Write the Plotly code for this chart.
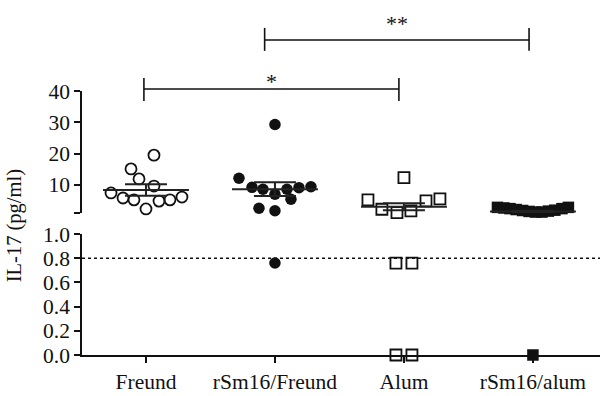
import plotly.graph_objects as go

# ---- data ----
categories = ["Freund", "rSm16/Freund", "Alum", "rSm16/alum"]

freund_vals = [19.5, 15.1, 11.9, 9.6, 7.4, 5.8, 5.2, 2.3, 4.8, 5.2, 6.1]
rsm_freund_vals = [29.3, 12.1, 9.2, 8.6, 7.0, 8.6, 5.4, 9.1, 9.4, 2.5, 1.7, 0.76]
alum_vals = [12.3, 5.2, 2.2, 1.1, 1.7, 4.9, 5.5, 0.76, 0.76, 0.0, 0.0]
rsm_alum_vals = [2.8, 2.6, 2.4, 2.1, 1.8, 1.5, 1.3, 1.3, 1.6, 1.9, 2.4, 2.8, 0.0]

group_means = [8.35, 8.6, 3.0, 1.5]
group_sems = [1.85, 2.2, 1.15, 0.2]

top_ticks = [1, 10, 20, 30, 40]
top_ticktext = ["", "10", "20", "30", "40"]
bottom_ticks = [0.0, 0.2, 0.4, 0.6, 0.8, 1.0]
threshold = 0.8

# ---- horizontal jitter of the points (category units) ----
freund_jit = [0.062, -0.116, -0.054, 0.062, -0.271, -0.178, -0.093, 0.0, 0.101, 0.186, 0.279]
rsm_freund_jit = [0.0, -0.279, -0.178, -0.093, 0.0, 0.093, 0.124, 0.186, 0.279, -0.124, 0.0, 0.0]
alum_jit = [0.0, -0.279, -0.171, -0.054, 0.054, 0.171, 0.279, -0.062, 0.062, -0.062, 0.062]
rsm_alum_jit = [-0.275, -0.225, -0.178, -0.13, -0.08, -0.03, 0.02, 0.07, 0.12, 0.17, 0.225, 0.275, 0.0]

FONT = "Liberation Serif"
INK = "#111111"

groups = [
    (freund_vals, freund_jit, "circle-open", INK),
    (rsm_freund_vals, rsm_freund_jit, "circle", INK),
    (alum_vals, alum_jit, "square-open", INK),
    (rsm_alum_vals, rsm_alum_jit, "square", INK),
]

fig = go.Figure()

for gi, (vals, jit, sym, col) in enumerate(groups):
    top_x = [gi + j for v, j in zip(vals, jit) if v >= 1]
    top_y = [v for v in vals if v >= 1]
    bot_x = [gi + j for v, j in zip(vals, jit) if v < 1]
    bot_y = [v for v in vals if v < 1]
    if sym.endswith("open"):
        marker = dict(symbol=sym, size=11, color=col, line=dict(width=1.8, color=col))
    else:
        marker = dict(symbol=sym, size=11.5, color=col, line=dict(width=0))
    fig.add_trace(go.Scatter(x=top_x, y=top_y, mode="markers", marker=marker,
                             xaxis="x2", yaxis="y2", cliponaxis=False, showlegend=False))
    if bot_y:
        fig.add_trace(go.Scatter(x=bot_x, y=bot_y, mode="markers", marker=marker,
                                 xaxis="x", yaxis="y", cliponaxis=False, showlegend=False))

# mean lines and SEM bars
for gi, (m, s) in enumerate(zip(group_means, group_sems)):
    fig.add_trace(go.Scatter(x=[gi - 0.333, gi + 0.333], y=[m, m], mode="lines",
                             line=dict(color="#222222", width=2),
                             xaxis="x2", yaxis="y2", cliponaxis=False, showlegend=False))
    fig.add_trace(go.Scatter(x=[gi], y=[m], mode="markers", marker=dict(size=1, opacity=0),
                             error_y=dict(type="data", array=[s], color="#222222",
                                          thickness=2, width=21),
                             xaxis="x2", yaxis="y2", cliponaxis=False, showlegend=False))

# dotted threshold line
fig.add_shape(type="line", xref="x domain", yref="y", x0=0, x1=1, y0=threshold, y1=threshold,
              line=dict(color=INK, width=1.6, dash="dot"))

# significance brackets
def bracket(x0, x1, yb, ytop, ylow, label, ylab):
    fig.add_shape(type="line", xref="x", yref="paper", x0=x0, x1=x1, y0=yb, y1=yb,
                  line=dict(color=INK, width=1.6))
    for xx in (x0, x1):
        fig.add_shape(type="line", xref="x", yref="paper", x0=xx, x1=xx, y0=ylow, y1=ytop,
                      line=dict(color=INK, width=1.6))
    fig.add_annotation(x=(x0 + x1) / 2, y=ylab, xref="x", yref="paper", text=label,
                       xanchor="center", yanchor="middle",
                       showarrow=False, font=dict(family=FONT, size=22, color=INK))

bracket(0.92, 2.97, 1.193, 1.239, 1.152, "**", 1.254)
bracket(-0.016, 1.961, 1.0076, 1.049, 0.962, "*", 1.036)

# y-axis title
fig.add_annotation(x=-0.130, y=0.49, xref="paper", yref="paper", text="IL-17 (pg/ml)",
                   textangle=-90, xanchor="center", yanchor="middle",
                   showarrow=False, font=dict(family=FONT, size=20.5, color=INK))

axis_common = dict(showline=True, linecolor=INK, linewidth=1.6, ticks="outside",
                   ticklen=6, tickwidth=1.6, tickcolor=INK, showgrid=False, zeroline=False,
                   tickfont=dict(family=FONT, size=21.5, color=INK))

fig.update_layout(
    width=600, height=396,
    margin=dict(l=82, r=0, t=91, b=41),
    paper_bgcolor="white", plot_bgcolor="white",
    showlegend=False,
    xaxis=dict(domain=[0, 1], range=[-0.496, 3.52], tickvals=[0, 1, 2, 3], ticktext=categories,
               anchor="y", **axis_common),
    xaxis2=dict(domain=[0, 1], range=[-0.496, 3.52], matches="x", anchor="y2", visible=False),
    yaxis=dict(domain=[0, 0.4583], range=[0, 1.0], tickvals=bottom_ticks, tickformat=".1f",
               anchor="x", **axis_common),
    yaxis2=dict(domain=[0.5379, 1], range=[1, 40], tickvals=top_ticks, ticktext=top_ticktext,
                anchor="x2", **axis_common),
)

fig.write_html("out.html", config={"displayModeBar": False},
               post_script="document.body.style.margin='0';document.body.style.overflow='hidden';")
